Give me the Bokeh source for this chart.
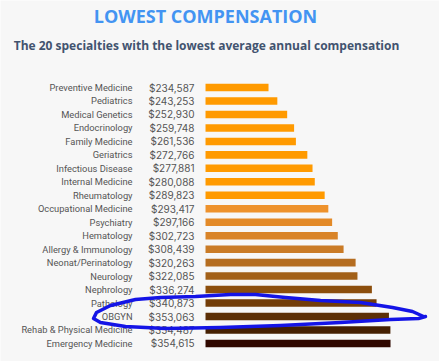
from bokeh.plotting import figure
from bokeh.models import ColumnDataSource, Range1d, Label
from bokeh.embed import file_html
from bokeh.resources import INLINE

# Specialties, ordered from lowest to highest average annual compensation
specialties = [
    "Preventive Medicine", "Pediatrics", "Medical Genetics", "Endocrinology",
    "Family Medicine", "Geriatrics", "Infectious Disease", "Internal Medicine",
    "Rheumatology", "Occupational Medicine", "Psychiatry", "Hematology",
    "Allergy & Immunology", "Neonat/Perinatology", "Neurology", "Nephrology",
    "Pathology", "OBGYN", "Rehab & Physical Medicine", "Emergency Medicine",
]
compensation = [
    234587, 243253, 252930, 259748, 261536, 272766, 277881, 280088, 289823,
    293417, 297166, 302723, 308439, 320263, 322085, 336274, 340873, 353063,
    354487, 354615,
]
bar_colors = [
    "#ff9a00", "#ff9a00", "#ff9a00", "#ff9a00", "#ff9a00", "#ff9a00",
    "#ff9a00", "#ff9a00", "#ff9a00", "#ee922c", "#e38a28", "#d98428",
    "#ca7b26", "#b56d20", "#a26018", "#8c4e0c", "#733d08", "#5c2f06",
    "#452002", "#300800",
]

W, H = 439, 361
BG = "#f7f7f7"
BASE = 172600            # value at which the bars start
X0, X1 = -29100, 402800  # horizontal range across the canvas
Y0, Y1 = -6.46, 20.34    # vertical range (rank units), flipped below

src = ColumnDataSource(dict(
    y=list(range(len(specialties))),
    name=specialties,
    value=compensation,
    label=[f"${v:,}" for v in compensation],
    color=bar_colors,
    base=[BASE] * len(specialties),
))

p = figure(width=W, height=H, output_backend="svg", toolbar_location=None,
           x_range=Range1d(X0, X1), y_range=Range1d(Y1, Y0),
           min_border=0, min_border_left=0, min_border_right=0,
           min_border_top=0, min_border_bottom=0)
p.axis.visible = False
p.grid.visible = False
p.outline_line_color = None
p.background_fill_color = BG
p.border_fill_color = BG

p.hbar(y="y", left="base", right="value", height=0.56, color="color",
       line_color=None, source=src)

p.text(x="base", y="y", text="name", source=src, x_offset=-73,
       text_align="right", text_baseline="middle", text_font_size="9.3px",
       text_color="#555555", text_font={"value": "Roboto"})
p.text(x="base", y="y", text="label", source=src, x_offset=-11,
       text_align="right", text_baseline="middle", text_font_size="10px",
       text_color="#555555", text_font={"value": "Inter"})

p.add_layout(Label(x=205, y=H - 15, x_units="screen", y_units="screen",
                   text="LOWEST COMPENSATION", text_align="center",
                   text_baseline="middle", text_font="Open Sans",
                   text_font_style="bold", text_font_size="18px",
                   text_color="#4394f2"))
p.add_layout(Label(x=206, y=H - 45, x_units="screen", y_units="screen",
                   text="The 20 specialties with the lowest average annual compensation",
                   text_align="center", text_baseline="middle",
                   text_font="Open Sans", text_font_style="bold",
                   text_font_size="12px", text_color="#42536f"))

# Hand-drawn blue loop around the OBGYN row (pixel path converted to data units)
loop_px = [
    (423, 316), (412, 311), (392, 307), (360, 302), (320, 300), (285, 297),
    (255, 294), (230, 294), (195, 296), (160, 297), (135, 299), (110, 305),
    (96, 312), (93, 318), (100, 322), (125, 326), (165, 328), (220, 327),
    (280, 325), (340, 322), (390, 319), (418, 318), (425, 316),
]
lx = [X0 + px * (X1 - X0) / W for px, _ in loop_px]
ly = [Y0 + py * (Y1 - Y0) / H for _, py in loop_px]
p.line(lx, ly, line_color="#1414e6", line_width=3.5, line_cap="round",
       line_join="round")

open("out.html", "w").write(file_html(p, INLINE))
